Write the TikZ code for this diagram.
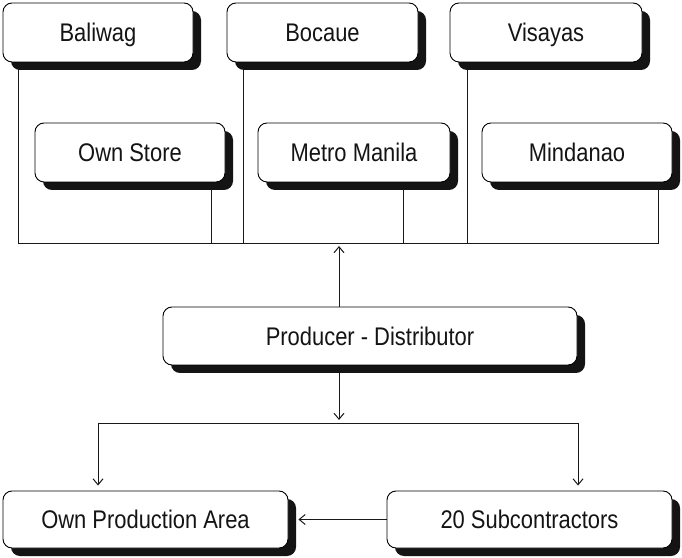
\documentclass[tikz,border=0pt]{standalone}
\usepackage{fontspec}
\setmainfont{Liberation Sans}[FakeStretch=0.86]
\usetikzlibrary{shadows,arrows.meta,backgrounds}
\begin{document}
\begin{tikzpicture}[x=1pt,y=1pt,
  box/.style={draw=black, line width=0.9pt, rounded corners=9pt, fill=white,
    inner sep=0pt, font=\fontsize{25.5}{28}\selectfont, text=black!92,
    text height=18.3pt, text depth=0pt,
    general shadow={fill=black!92, shadow xshift=8pt, shadow yshift=-8pt}},
  conn/.style={line width=0.9pt, draw=black!90},
  arr/.style={conn, -{Straight Barb[length=6pt,width=10pt,line width=1pt]}}
]
\useasboundingbox (0,0) rectangle (682,557);

\node[box, minimum width=190, minimum height=59] (bal) at (98,524.5) {Baliwag};
\node[box, minimum width=191, minimum height=59] (boc) at (322.5,524.5) {Bocaue};
\node[box, minimum width=192, minimum height=59] (vis) at (546,524.5) {Visayas};
\node[box, minimum width=190, minimum height=59] (own) at (130,404.5) {Own Store};
\node[box, minimum width=192, minimum height=59] (met) at (354,404.5) {Metro Manila};
\node[box, minimum width=190, minimum height=59] (min) at (577,404.5) {Mindanao};
\node[box, minimum width=414, minimum height=58] (pd) at (370,221) {Producer - Distributor};
\node[box, minimum width=285, minimum height=57] (opa) at (145.5,37.5) {Own Production Area};
\node[box, minimum width=285, minimum height=57] (sub) at (529.5,37.5) {20 Subcontractors};

\coordinate (busL) at (18,314);
\coordinate (c2) at (211,314);
\coordinate (c3) at (243,314);
\coordinate (busM) at (339,314);
\coordinate (c4) at (403,314);
\coordinate (c5) at (467,314);
\coordinate (busR) at (658,314);
\coordinate (lowL) at (98,134);
\coordinate (lowM) at (339,134);
\coordinate (lowR) at (578,134);

\begin{scope}[on background layer]
\draw[conn] (bal.south -| busL) -- (busL) -- (busR) -- (min.south -| busR);
\draw[conn] (own.south -| c2) -- (c2);
\draw[conn] (boc.south -| c3) -- (c3);
\draw[conn] (met.south -| c4) -- (c4);
\draw[conn] (vis.south -| c5) -- (c5);
\draw[arr, shorten >=3pt] (pd.north -| busM) -- (busM);
\draw[arr, shorten >=3pt] (pd.south -| lowM) -- (lowM);
\draw[conn] (lowL) -- (lowR);
\draw[arr, shorten >=5pt] (lowL) -- (opa.north -| lowL);
\draw[arr, shorten >=5pt] (lowR) -- (sub.north -| lowR);
\draw[arr, shorten >=10pt] (sub.west) -- (opa.east);
\end{scope}
\end{tikzpicture}
\end{document}
